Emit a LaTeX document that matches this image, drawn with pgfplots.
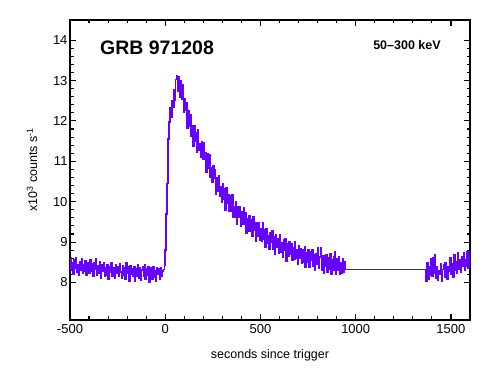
\documentclass[border=0pt]{standalone}
\usepackage{fontspec}
\setmainfont{Liberation Sans}
\usepackage{pgfplots}
\pgfplotsset{compat=1.18}
\definecolor{grbline}{RGB}{102,0,255}
\begin{document}
\begin{tikzpicture}
\useasboundingbox (0,0) rectangle (490bp,390bp);
\begin{axis}[
  at={(70bp,70bp)}, anchor=south west,
  width=400bp, height=300bp, scale only axis,
  xmin=-500, xmax=1600, ymin=7.07, ymax=14.5,
  xtick={-500,0,500,1000,1500},
  xticklabels={-500,0,500,1000,1500},
  ytick={8,9,10,11,12,13,14},
  yticklabels={8,9,10,11,12,13,14},
  minor x tick num=4, minor y tick num=4,
  tick align=inside,
  major tick length=6bp, minor tick length=3.5bp,
  axis line style={line width=1.2bp},
  every tick/.style={black, line width=1.1bp},
  tick label style={font=\fontsize{13bp}{15bp}\selectfont},
  xticklabel style={yshift=-1bp},
  yticklabel style={xshift=1bp},
  xlabel={seconds since trigger},
  ylabel={x10\textsuperscript{3} counts s\textsuperscript{-1}},
  label style={font=\fontsize{12.5bp}{14bp}\selectfont},
  xlabel style={at={(axis description cs:0.5,-0.1167)}, anchor=center},
  ylabel style={at={(axis description cs:-0.095,0.5)}, anchor=center},
  clip=true,
]
\addplot[const plot, color=grbline, line width=1.5bp] coordinates {
(-500,8.60) (-495,8.30) (-490,8.50) (-485,8.21) (-480,8.56) (-475,8.35) (-470,8.61) (-465,8.25) (-460,8.44) (-455,8.18)
(-450,8.51) (-445,8.30) (-440,8.58) (-435,8.22) (-430,8.45) (-425,8.27) (-420,8.54) (-415,8.19) (-410,8.39) (-405,8.50)
(-400,8.23) (-395,8.57) (-390,8.28) (-385,8.46) (-380,8.15) (-375,8.50) (-370,8.32) (-365,8.59) (-360,8.19) (-355,8.41)
(-350,8.24) (-345,8.51) (-340,8.11) (-335,8.45) (-330,8.28) (-325,8.48) (-320,8.15) (-315,8.36) (-310,8.19) (-305,8.44)
(-300,8.08) (-295,8.40) (-290,8.25) (-285,8.50) (-280,8.16) (-275,8.36) (-270,8.30) (-265,8.11) (-260,8.45) (-255,8.22)
(-250,8.40) (-245,8.16) (-240,8.47) (-235,8.26) (-230,8.11) (-225,8.42) (-220,8.19) (-215,8.37) (-210,8.09) (-205,8.49)
(-200,8.24) (-195,8.40) (-190,8.04) (-185,8.42) (-180,8.21) (-175,8.33) (-170,8.15) (-165,8.40) (-160,8.02) (-155,8.35)
(-150,8.16) (-145,8.43) (-140,8.11) (-135,8.36) (-130,8.06) (-125,8.31) (-120,8.38) (-115,8.15) (-110,8.44) (-105,8.07)
(-100,8.33) (-95,8.18) (-90,8.40) (-85,8.01) (-80,8.29) (-75,8.36) (-70,8.09) (-65,8.40) (-60,8.13) (-55,8.30)
(-50,8.03) (-45,8.37) (-40,8.20) (-35,8.34) (-30,8.07) (-25,8.37) (-20,8.15) (-15,8.28) (-10,8.32) (-5,8.43)
(0,8.80) (5,9.70) (10,10.45) (15,11.55) (20,11.97)
(25,12.32) (30,12.10) (35,12.49) (40,12.33) (45,12.76) (50,12.51) (55,13.03) (60,13.12) (65,12.73) (70,13.10)
(75,12.59) (80,12.99) (85,12.54) (90,12.89) (95,12.22) (100,12.55) (105,12.26) (110,12.44) (115,11.83) (120,12.24)
(125,11.86) (130,12.16) (135,11.62) (140,11.88) (145,11.37) (150,11.89) (155,11.50) (160,11.70) (165,11.22) (170,11.77)
(175,11.27) (180,11.43) (185,11.09) (190,11.48) (195,11.06) (200,11.45) (205,11.04) (210,11.21) (215,10.74) (220,11.19)
(225,10.82) (230,11.17) (235,10.61) (240,10.85) (245,10.47) (250,10.89) (255,10.59) (260,10.79) (265,10.18) (270,10.59)
(275,10.26) (280,10.64) (285,10.14) (290,10.36) (295,9.99) (300,10.44) (305,10.07) (310,10.32) (315,9.78) (320,10.34)
(325,9.96) (330,10.16) (335,9.76) (340,10.15) (345,9.77) (350,10.18) (355,9.62) (360,9.88) (365,9.61) (370,10.01)
(375,9.44) (380,9.87) (385,9.62) (390,9.87) (395,9.38) (400,9.74) (405,9.43) (410,9.84) (415,9.45) (420,9.72)
(425,9.21) (430,9.58) (435,9.26) (440,9.66) (445,9.28) (450,9.55) (455,9.14) (460,9.62) (465,9.29) (470,9.47)
(475,9.02) (480,9.48) (485,9.15) (490,9.49) (495,9.04) (500,9.32) (505,9.03) (510,9.48) (515,9.08) (520,9.30)
(525,8.87) (530,9.32) (535,8.96) (540,9.16) (545,8.83) (550,9.23) (555,8.99) (560,9.29) (565,8.82) (570,9.12)
(575,8.69) (580,9.19) (585,8.86) (590,9.09) (595,8.73) (600,9.19) (605,8.76) (610,8.98) (615,8.62) (620,9.06)
(625,8.79) (630,9.09) (635,8.52) (640,8.97) (645,8.65) (650,9.01) (655,8.70) (660,8.96) (665,8.54) (670,8.87)
(675,8.57) (680,9.01) (685,8.60) (690,8.80) (695,8.45) (700,8.90) (705,8.61) (710,8.84) (715,8.47) (720,8.80)
(725,8.50) (730,8.88) (735,8.37) (740,8.74) (745,8.50) (750,8.80) (755,8.38) (760,8.76) (765,8.54) (770,8.80)
(775,8.40) (780,8.69) (785,8.31) (790,8.72) (795,8.44) (800,8.86) (805,8.35) (810,8.63) (815,8.87) (820,8.31)
(825,8.66) (830,8.24) (835,8.67) (840,8.40) (845,8.69) (850,8.25) (855,8.60) (860,8.33) (865,8.71) (870,8.20)
(875,8.56) (880,8.29) (885,8.64) (890,8.75) (895,8.20) (900,8.59) (905,8.31) (910,8.63) (915,8.20) (920,8.49)
(925,8.22) (930,8.58) (935,8.26) (940,8.52) (945,8.32)
(1370,8.02) (1375,8.50) (1380,8.08) (1385,8.39) (1390,8.18) (1395,8.58) (1400,8.16) (1405,8.62) (1410,8.22) (1415,8.68)
(1420,8.11) (1425,8.39) (1430,8.05) (1435,8.30) (1440,8.20) (1445,8.47) (1450,8.02) (1455,8.32) (1460,8.43) (1465,8.13)
(1470,8.50) (1475,8.23) (1480,8.07) (1485,8.39) (1490,8.27) (1495,8.60) (1500,8.20) (1505,8.47) (1510,8.13) (1515,8.68)
(1520,8.30) (1525,8.51) (1530,8.22) (1535,8.73) (1540,8.32) (1545,8.55) (1550,8.25) (1555,8.64) (1560,8.39) (1565,8.74)
(1570,8.30) (1575,8.57) (1580,8.40) (1585,8.77) (1590,8.35) (1595,8.77) (1600,8.50)
};
\node[font=\fontsize{19.5bp}{22bp}\selectfont\bfseries, anchor=center] at (rel axis cs:0.2175,0.907) {GRB 971208};
\node[font=\fontsize{12.5bp}{14bp}\selectfont\bfseries, anchor=center] at (rel axis cs:0.8425,0.917) {50--300 keV};
\end{axis}
\end{tikzpicture}
\end{document}
